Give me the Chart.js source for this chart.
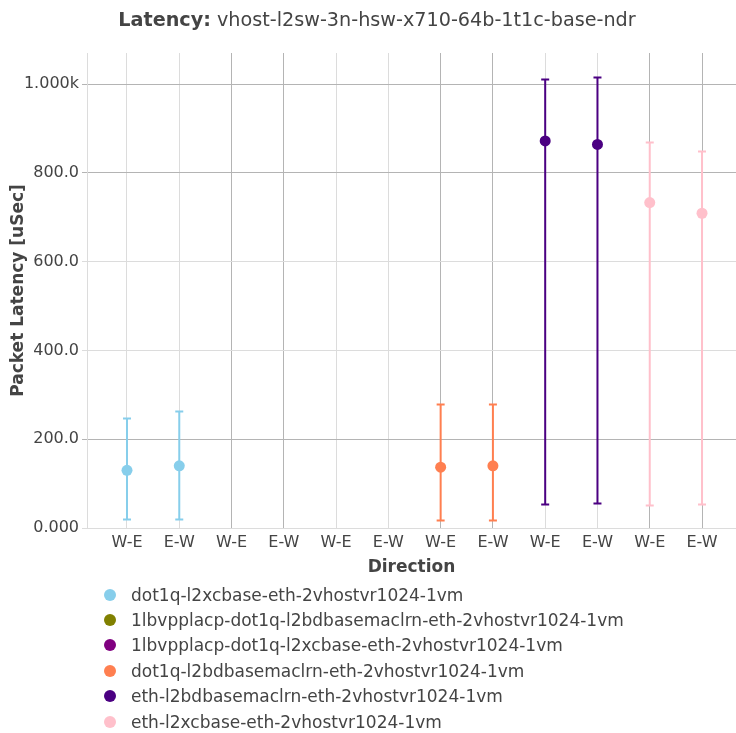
<!DOCTYPE html>
<html lang="en">
<head>
  <meta charset="UTF-8">
  <title>Latency: vhost-l2sw-3n-hsw-x710-64b-1t1c-base-ndr</title>
  <script src="https://cdn.jsdelivr.net/npm/chart.js@4.4.0/dist/chart.umd.min.js"></script>
  <style>
    body { margin: 0; background: #fff; font-family: 'DejaVu Sans', sans-serif; color: #444; }
    #wrap { position: relative; width: 736px; height: 733px; overflow: hidden; }
    #title { position: absolute; top: 8px; left: 0; width: 754px; text-align: center; font-size: 19.2px; line-height: 24px; }
    #legend { position: absolute; top: 582px; left: 104px; font-size: 17px; }
    .item { height: 25.4px; display: flex; align-items: center; white-space: nowrap; }
    .dot { width: 12px; height: 12px; border-radius: 50%; margin-right: 15px; }
  </style>
</head>
<body>
  <div id="wrap">
    <canvas id="chart" width="736" height="733"></canvas>
    <div id="title"><b>Latency:</b> vhost-l2sw-3n-hsw-x710-64b-1t1c-base-ndr</div>
    <div id="legend"></div>
  </div>
  <script>
    // x categories (direction), repeated for each test
    const categories = ['W-E', 'E-W', 'W-E', 'E-W', 'W-E', 'E-W', 'W-E', 'E-W', 'W-E', 'E-W', 'W-E', 'E-W'];
    const yTickValues = [0, 200, 400, 600, 800, 1000];
    const yTickLabels = ['0.000', '200.0', '400.0', '600.0', '800.0', '1.000k'];

    const seriesNames = [
      'dot1q-l2xcbase-eth-2vhostvr1024-1vm',
      '1lbvpplacp-dot1q-l2bdbasemaclrn-eth-2vhostvr1024-1vm',
      '1lbvpplacp-dot1q-l2xcbase-eth-2vhostvr1024-1vm',
      'dot1q-l2bdbasemaclrn-eth-2vhostvr1024-1vm',
      'eth-l2bdbasemaclrn-eth-2vhostvr1024-1vm',
      'eth-l2xcbase-eth-2vhostvr1024-1vm'
    ];
    const seriesColors = ['#87ceeb', '#808000', '#800080', '#ff7f50', '#4b0082', '#ffc0cb'];

    // avg / min / max latency per series, [W-E, E-W]
    const dot1qL2xcAvg = [130, 140];
    const dot1qL2xcMin = [21, 21];
    const dot1qL2xcMax = [247, 264];

    const lacpL2bdAvg = [];
    const lacpL2bdMin = [];
    const lacpL2bdMax = [];

    const lacpL2xcAvg = [];
    const lacpL2xcMin = [];
    const lacpL2xcMax = [];

    const dot1qL2bdAvg = [137, 140];
    const dot1qL2bdMin = [19, 19];
    const dot1qL2bdMax = [279, 280];

    const ethL2bdAvg = [872, 864];
    const ethL2bdMin = [55, 56];
    const ethL2bdMax = [1011, 1015];

    const ethL2xcAvg = [733, 709];
    const ethL2xcMin = [52, 53];
    const ethL2xcMax = [869, 850];

    const avgs = [dot1qL2xcAvg, lacpL2bdAvg, lacpL2xcAvg, dot1qL2bdAvg, ethL2bdAvg, ethL2xcAvg];
    const mins = [dot1qL2xcMin, lacpL2bdMin, lacpL2xcMin, dot1qL2bdMin, ethL2bdMin, ethL2xcMin];
    const maxs = [dot1qL2xcMax, lacpL2bdMax, lacpL2xcMax, dot1qL2bdMax, ethL2bdMax, ethL2xcMax];

    Chart.defaults.font.family = "'DejaVu Sans', sans-serif";
    Chart.defaults.color = '#444';

    const datasets = seriesNames.map((name, s) => ({
      label: name,
      data: avgs[s].map((v, i) => ({ x: s * 2 + i, y: v })),
      errMin: mins[s],
      errMax: maxs[s],
      backgroundColor: seriesColors[s],
      borderColor: seriesColors[s],
      pointRadius: 5.5,
      pointBorderWidth: 0,
      showLine: false
    }));

    // draws the min/max whiskers behind the markers
    const errorBars = {
      id: 'errorBars',
      beforeDatasetsDraw(chart) {
        const ctx = chart.ctx;
        const y = chart.scales.y;
        chart.data.datasets.forEach((ds, di) => {
          const meta = chart.getDatasetMeta(di);
          meta.data.forEach((pt, i) => {
            const top = Math.round(y.getPixelForValue(ds.errMax[i])) + 0.5;
            const bot = Math.round(y.getPixelForValue(ds.errMin[i])) + 0.5;
            const x = pt.x;
            ctx.save();
            ctx.strokeStyle = ds.borderColor;
            ctx.lineWidth = 2;
            ctx.beginPath();
            ctx.moveTo(x, top); ctx.lineTo(x, bot);
            ctx.moveTo(x - 4, top); ctx.lineTo(x + 4, top);
            ctx.moveTo(x - 4, bot); ctx.lineTo(x + 4, bot);
            ctx.stroke();
            ctx.restore();
          });
        });
      }
    };

    const dark = '#b4b4b4', light = '#dcdcdc';

    new Chart(document.getElementById('chart').getContext('2d'), {
      type: 'scatter',
      data: { datasets },
      plugins: [errorBars],
      options: {
        responsive: false,
        animation: false,
        layout: { autoPadding: false, padding: { top: 53, bottom: 153, left: 0, right: 0 } },
        plugins: { legend: { display: false }, tooltip: { enabled: false } },
        scales: {
          x: {
            type: 'linear',
            min: -0.765,
            max: 11.65,
            afterBuildTicks: s => { s.ticks = categories.map((c, i) => ({ value: i })); },
            afterFit: s => { s.height = 52; s.paddingLeft = 0; s.paddingRight = 0; },
            ticks: { callback: v => categories[v], font: { size: 16 }, padding: 5, maxRotation: 0, autoSkip: false },
            grid: { color: c => (c.tick && c.tick.value % 4 >= 2 ? dark : light), drawTicks: false, lineWidth: 1 },
            border: { display: false },
            title: { display: true, text: 'Direction', font: { size: 17, weight: 'bold' }, padding: { top: 2, bottom: 2 } }
          },
          y: {
            min: 0,
            max: 1070,
            afterBuildTicks: s => { s.ticks = yTickValues.map(v => ({ value: v })); },
            afterFit: s => { s.width = 87; },
            ticks: { callback: (v, i) => yTickLabels[i], font: { size: 16 }, padding: 3 },
            grid: { color: c => ([200, 800, 1000].includes(c.tick && c.tick.value) ? dark : light), tickLength: 5 },
            border: { display: true, color: '#dcdcdc' },
            title: { display: true, text: 'Packet Latency [uSec]', font: { size: 17, weight: 'bold' }, padding: { top: 8, bottom: 0 } }
          }
        }
      }
    });

    // legend, one entry per row like the original
    const legend = document.getElementById('legend');
    seriesNames.forEach((name, s) => {
      const row = document.createElement('div');
      row.className = 'item';
      row.innerHTML = '<span class="dot" style="background:' + seriesColors[s] + '"></span>' + name;
      legend.appendChild(row);
    });
  </script>
</body>
</html>
